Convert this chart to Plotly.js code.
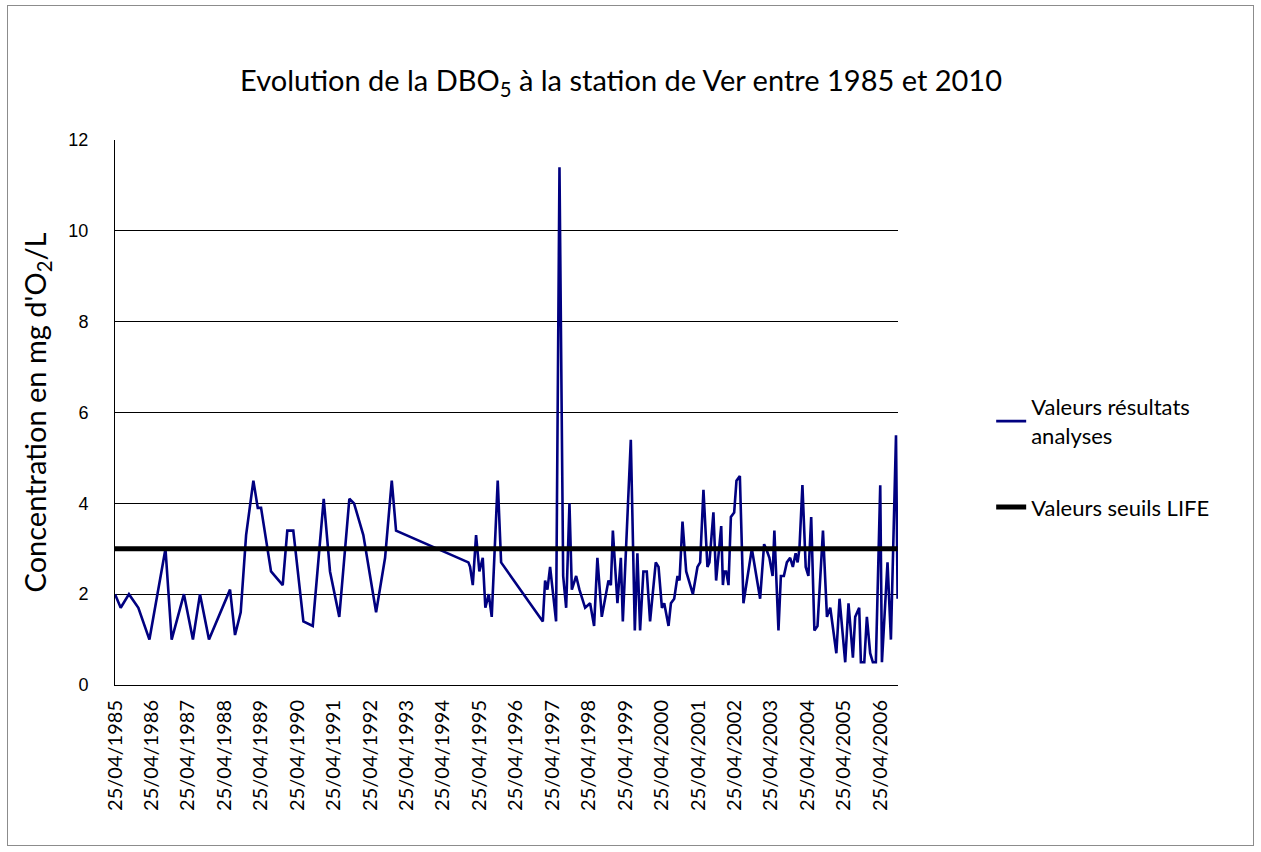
<!DOCTYPE html>
<html>
<head>
<meta charset="utf-8">
<script src="https://cdn.plot.ly/plotly-3.0.1.min.js"></script>
<style>
  html, body { margin: 0; padding: 0; background: #fff; }
  #frame { position: absolute; left: 7px; top: 5px; width: 1247px; height: 841px; border: 1px solid #8c8c8c; box-sizing: border-box; pointer-events: none; z-index: 5; }
  #chart { position: absolute; left: 0; top: 0; width: 1261px; height: 852px; }
</style>
</head>
<body>
<div id="chart"></div>
<div id="frame"></div>
<script>
const sampleDates = [
  '1985-04-25','1985-06-21','1985-09-12','1985-12-15','1986-04-05','1986-09-13','1986-11-14',
  '1987-03-17','1987-06-15','1987-08-25','1987-11-23','1988-06-21','1988-08-10','1988-10-06',
  '1988-11-29','1989-02-10','1989-03-26','1989-04-28','1989-08-06','1989-12-01','1990-01-16',
  '1990-03-17','1990-06-26','1990-09-28','1991-01-16','1991-03-20','1991-06-21','1991-09-30',
  '1991-11-16','1992-02-17','1992-06-24','1992-09-22','1992-11-28','1993-01-10','1995-01-05',
  '1995-01-22','1995-02-18','1995-03-23','1995-04-25','1995-05-29','1995-06-24','1995-07-28',
  '1995-08-27','1995-10-26','1995-11-29','1997-01-20','1997-02-12','1997-03-07','1997-04-03',
  '1997-06-02','1997-07-06','1997-08-12','1997-09-11','1997-10-14','1997-11-07','1997-12-20',
  '1998-01-22','1998-03-20','1998-05-09','1998-06-18','1998-07-21','1998-09-03','1998-11-09',
  '1998-12-03','1998-12-23','1999-02-07','1999-03-13','1999-04-02','1999-06-21','1999-07-31',
  '1999-08-26','1999-09-22','1999-10-25','1999-11-28','1999-12-31','2000-02-26','2000-03-25',
  '2000-04-28','2000-05-21','2000-07-03','2000-07-27','2000-08-29','2000-10-01','2000-10-21',
  '2000-11-20','2000-12-27','2001-03-04','2001-04-19','2001-05-16','2001-06-18','2001-07-28',
  '2001-08-17','2001-09-26','2001-10-23','2001-12-13','2001-12-30','2002-01-12','2002-02-01',
  '2002-02-24','2002-03-20','2002-04-22','2002-05-15','2002-06-18','2002-07-24','2002-10-16',
  '2003-01-07','2003-02-16','2003-03-09','2003-04-10','2003-05-12','2003-05-30','2003-07-10',
  '2003-08-03','2003-09-02','2003-10-02','2003-11-04','2003-12-01','2003-12-29','2004-01-18',
  '2004-02-05','2004-03-06','2004-04-08','2004-05-05','2004-06-02','2004-07-04','2004-08-04',
  '2004-09-28','2004-11-07','2004-12-10','2005-02-09','2005-03-13','2005-05-09','2005-06-11',
  '2005-07-25','2005-08-17','2005-09-26','2005-10-13','2005-11-16','2005-12-12','2006-01-14',
  '2006-02-10','2006-03-12','2006-04-25','2006-05-12','2006-07-07','2006-08-10','2006-09-30',
  '2006-10-16'
];

// DBO5 concentration (mg d'O2/L)
const dbo5Values = [
  2.0,1.7,2.0,1.7,1.0,3.0,1.0,
  2.0,1.0,2.0,1.0,2.1,1.1,1.6,
  3.3,4.5,3.9,3.9,2.5,2.2,3.4,
  3.4,1.4,1.3,4.1,2.5,1.5,4.1,
  4.0,3.3,1.6,2.8,4.5,3.4,2.7,
  2.6,2.2,3.3,2.5,2.8,1.7,2.0,
  1.5,4.5,2.7,1.4,2.3,2.1,2.6,
  1.4,11.4,2.4,1.7,4.0,2.1,2.4,
  2.1,1.7,1.8,1.3,2.8,1.5,2.3,
  2.2,3.4,1.8,2.8,1.4,5.4,1.2,
  2.9,1.2,2.5,2.5,1.4,2.7,2.6,
  1.7,1.8,1.3,1.8,1.9,2.4,2.3,
  3.6,2.5,2.0,2.6,2.7,4.3,2.6,
  2.7,3.8,2.3,3.5,2.2,2.5,2.5,
  2.2,3.7,3.8,4.5,4.6,1.8,3.0,
  1.9,3.1,3.0,2.8,2.4,3.4,1.2,
  2.4,2.4,2.7,2.8,2.6,2.9,2.7,
  3.0,4.4,2.6,2.4,3.7,1.2,1.3,
  3.4,1.5,1.7,0.7,1.9,0.5,1.8,
  0.6,1.5,1.7,0.5,0.5,1.5,0.7,
  0.5,0.5,4.4,0.5,2.7,1.0,5.5,
  1.9
];

// LIFE threshold
const thresholdDates = ['1985-04-25', '2006-10-16'];
const thresholdValues = [3, 3];

// X-axis ticks
const tickDates = ['1985-04-25','1986-04-25','1987-04-25','1988-04-25','1989-04-25','1990-04-25',
  '1991-04-25','1992-04-25','1993-04-25','1994-04-25','1995-04-25','1996-04-25','1997-04-25',
  '1998-04-25','1999-04-25','2000-04-25','2001-04-25','2002-04-25','2003-04-25','2004-04-25',
  '2005-04-25','2006-04-25'];
const tickLabels = ['25/04/1985','25/04/1986','25/04/1987','25/04/1988','25/04/1989','25/04/1990',
  '25/04/1991','25/04/1992','25/04/1993','25/04/1994','25/04/1995','25/04/1996','25/04/1997',
  '25/04/1998','25/04/1999','25/04/2000','25/04/2001','25/04/2002','25/04/2003','25/04/2004',
  '25/04/2005','25/04/2006'];
const yTicks = [0, 2, 4, 6, 8, 10, 12];

const seriesNames = ['Valeurs résultats<br>analyses', 'Valeurs seuils LIFE'];

const traces = [
  {
    x: sampleDates, y: dbo5Values, type: 'scatter', mode: 'lines',
    name: seriesNames[0], legendgroup: 'a',
    line: { color: '#000080', width: 2.6 }
  },
  {
    x: thresholdDates, y: thresholdValues, type: 'scatter', mode: 'lines',
    name: seriesNames[1], legendgroup: 'b',
    line: { color: '#000000', width: 5 }
  }
];

const font = 'Lato, "Open Sans", sans-serif';

const layout = {
  width: 1261, height: 852,
  margin: { l: 115, r: 363, t: 140, b: 167 },
  paper_bgcolor: '#ffffff', plot_bgcolor: '#ffffff',
  font: { family: font, color: '#000' },
  title: {
    text: 'Evolution de la DBO<sub>5</sub> à la station de Ver entre 1985 et 2010',
    font: { family: font, size: 29, color: '#000' },
    xref: 'container', yref: 'container', x: 0.4925, y: 0.905,
    xanchor: 'center', yanchor: 'middle'
  },
  xaxis: {
    type: 'date',
    range: ['1985-04-25', '2006-10-20'],
    tickmode: 'array', tickvals: tickDates, ticktext: tickLabels,
    tickangle: -90,
    tickfont: { family: font, size: 20, color: '#000' },
    showgrid: false, zeroline: false,
    showline: true, linecolor: '#000', linewidth: 1,
    ticks: '', ticklabelstandoff: 6
  },
  yaxis: {
    range: [0, 12],
    tickmode: 'array', tickvals: yTicks,
    tickfont: { family: '"Liberation Sans", Arial, sans-serif', size: 18, color: '#000' },
    showgrid: true, gridcolor: '#000', gridwidth: 1,
    zeroline: false,
    showline: true, linecolor: '#000', linewidth: 1,
    ticks: '', ticklabelstandoff: 22,
    title: {
      text: "Concentration en mg d'O<sub>2</sub>/L",
      font: { family: font, size: 29, color: '#000' },
      standoff: 13
    }
  },
  showlegend: true,
  legend: {
    x: 1.119, y: 0.5485, xanchor: 'left', yanchor: 'top',
    font: { family: font, size: 22, color: '#000' },
    bgcolor: 'rgba(0,0,0,0)',
    tracegroupgap: 40,
    itemwidth: 30
  }
};

Plotly.newPlot('chart', traces, layout, { displayModeBar: false, staticPlot: true });
</script>
</body>
</html>
